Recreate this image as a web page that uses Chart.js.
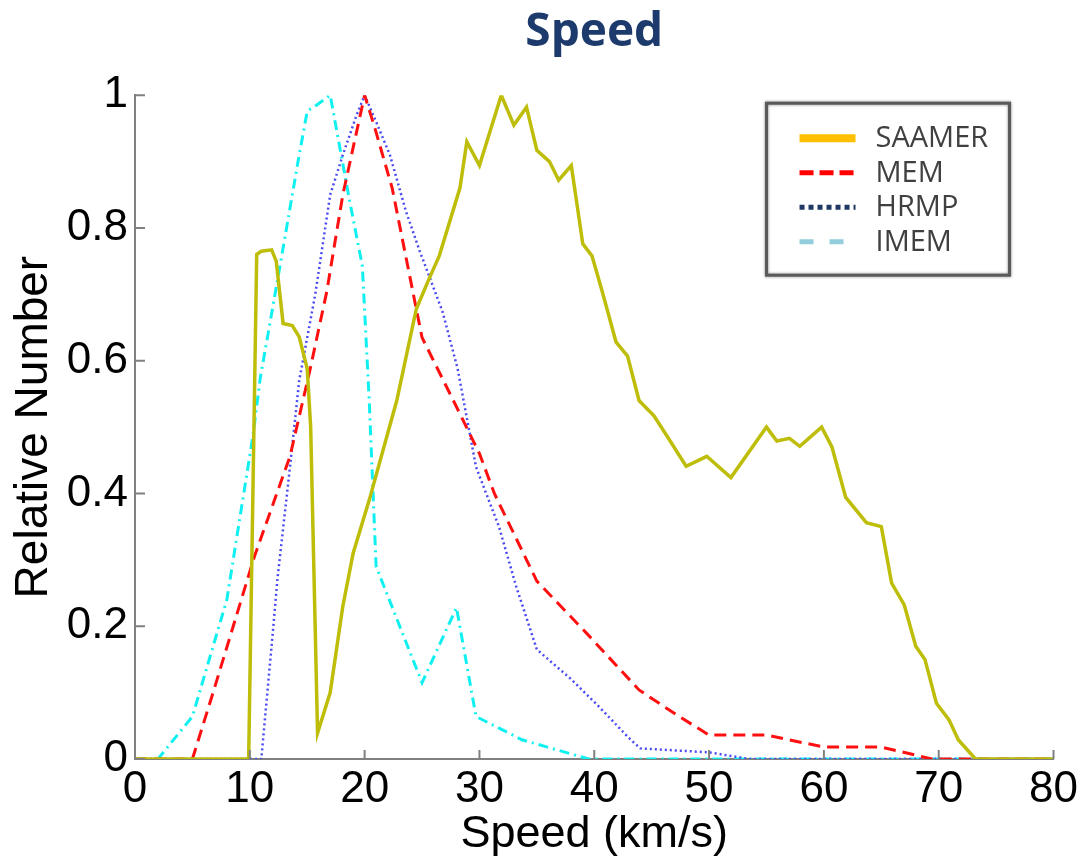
<!DOCTYPE html>
<html lang="en">

<head>
    <meta charset="UTF-8">
    <title>Speed</title>
    <script src="https://cdn.jsdelivr.net/npm/chart.js"></script>
    <style>
        body { margin: 0; background: #fff; }
        #wrap { width: 1082px; height: 862px; }
    </style>
</head>

<body>
    <div id="wrap"><canvas id="myChart"></canvas></div>

    <script>
        // speed distributions, x in km/s, y relative number
        const saamerSpeed = [0, 9.9, 10.6, 11, 11.9, 12.3, 12.9, 13.7, 14.3, 15, 15.3, 15.9, 17, 18.1, 19, 20.4, 22.8, 24.5, 25.6, 26.5, 28.3, 28.9, 30, 31.9, 33, 34.1, 35, 36.1, 36.9, 38, 39, 39.8, 40.7, 41.9, 42.9, 43.9, 45.2, 46.5, 48, 49.8, 51.9, 55, 55.9, 57, 57.9, 59.8, 60.7, 61.9, 63.7, 65, 65.9, 67, 68, 68.8, 69.8, 70.9, 71.7, 73.2, 80];
        const saamerValue = [0, 0, 0.76, 0.765, 0.767, 0.75, 0.656, 0.653, 0.636, 0.588, 0.5, 0.039, 0.1, 0.23, 0.31, 0.39, 0.54, 0.678, 0.723, 0.758, 0.86, 0.93, 0.894, 1.0, 0.955, 0.982, 0.917, 0.9, 0.872, 0.894, 0.776, 0.758, 0.704, 0.628, 0.607, 0.54, 0.517, 0.482, 0.441, 0.456, 0.424, 0.5, 0.479, 0.483, 0.471, 0.5, 0.47, 0.394, 0.356, 0.35, 0.265, 0.232, 0.17, 0.15, 0.084, 0.059, 0.029, 0, 0];

        const memSpeed = [0, 5, 6.8, 10.4, 13.5, 15.2, 16.7, 18.1, 20, 20.9, 22.4, 24.5, 25, 28.3, 30, 31.3, 35, 39.3, 43.9, 47.4, 50, 55, 60, 65, 69.4, 80];
        const memValue = [0, 0, 0.1, 0.305, 0.456, 0.583, 0.704, 0.85, 1.0, 0.95, 0.86, 0.678, 0.635, 0.52, 0.46, 0.4, 0.268, 0.19, 0.104, 0.064, 0.036, 0.036, 0.018, 0.018, 0, 0];

        const hrmpSpeed = [0, 11, 12, 12.4, 13.5, 14.3, 15.7, 17, 18.1, 19.3, 20, 21, 22.2, 23.6, 24.8, 25.7, 26.8, 28.1, 29.7, 31.7, 33.2, 35, 38, 40.4, 43, 44, 50, 53.5, 80];
        const hrmpValue = [0, 0, 0.19, 0.27, 0.44, 0.57, 0.7, 0.85, 0.91, 0.97, 1.0, 0.96, 0.91, 0.825, 0.765, 0.724, 0.673, 0.588, 0.44, 0.35, 0.26, 0.165, 0.12, 0.079, 0.032, 0.016, 0.01, 0, 0];

        const imemSpeed = [0, 2, 5, 8, 10.3, 10.9, 12.6, 14.2, 15, 15.8, 17, 17.8, 18.7, 19.8, 20.4, 21, 25, 28, 29.7, 33.7, 39.5, 80];
        const imemValue = [0, 0, 0.064, 0.24, 0.49, 0.573, 0.74, 0.9, 0.976, 0.985, 1.0, 0.925, 0.84, 0.743, 0.54, 0.29, 0.115, 0.228, 0.064, 0.029, 0, 0];

        const legendNames = ['SAAMER', 'MEM', 'HRMP', 'IMEM'];
        const legendColors = ['#FFC000', '#FF0000', '#1F3864', '#92CDDC'];
        const legendDashes = [[], [14, 6], [5, 4], [14, 16]];
        const legendWidths = [8, 5, 5, 5];

        function toPoints(xs, ys) {
            return xs.map((x, i) => ({ x: x, y: ys[i] }));
        }

        // inward tick marks on the left and bottom axes
        const innerTicks = {
            id: 'innerTicks',
            afterDraw(chart) {
                const { ctx, chartArea, scales } = chart;
                ctx.save();
                ctx.strokeStyle = '#808080';
                ctx.lineWidth = 2;
                ctx.beginPath();
                scales.y.ticks.forEach(t => {
                    const py = scales.y.getPixelForValue(t.value);
                    ctx.moveTo(chartArea.left, py);
                    ctx.lineTo(chartArea.left + 10, py);
                });
                scales.x.ticks.forEach(t => {
                    const px = scales.x.getPixelForValue(t.value);
                    ctx.moveTo(px, chartArea.bottom);
                    ctx.lineTo(px, chartArea.bottom - 9);
                });
                ctx.stroke();
                ctx.restore();
            }
        };

        // boxed legend in the upper right
        const boxLegend = {
            id: 'boxLegend',
            afterDraw(chart) {
                const { ctx, chartArea } = chart;
                const w = 243, h = 172;
                const x0 = chartArea.right - 44 - w;
                const y0 = chartArea.top + 8;
                ctx.save();
                ctx.fillStyle = '#fff';
                ctx.fillRect(x0, y0, w, h);
                ctx.shadowColor = 'rgba(0,0,0,0.5)';
                ctx.shadowBlur = 3;
                ctx.strokeStyle = '#5a5a5a';
                ctx.lineWidth = 3;
                ctx.strokeRect(x0, y0, w, h);
                ctx.shadowBlur = 0;
                ctx.font = '29px "Open Sans"';
                ctx.textBaseline = 'middle';
                legendNames.forEach((name, i) => {
                    const y = y0 + 35 + i * 34.5;
                    ctx.beginPath();
                    ctx.setLineDash(legendDashes[i]);
                    ctx.strokeStyle = legendColors[i];
                    ctx.lineWidth = legendWidths[i];
                    ctx.moveTo(x0 + 33, y);
                    ctx.lineTo(x0 + 89, y);
                    ctx.stroke();
                    ctx.setLineDash([]);
                    ctx.fillStyle = '#404040';
                    ctx.fillText(name, x0 + 109, y + 1);
                });
                ctx.restore();
            }
        };

        function drawChart() {
            const ctx = document.getElementById('myChart').getContext('2d');
            window.myChart = new Chart(ctx, {
                type: 'line',
                data: {
                    datasets: [{
                        label: 'SAAMER',
                        data: toPoints(saamerSpeed, saamerValue),
                        borderColor: '#BDBD0A',
                        borderWidth: 3.5
                    }, {
                        label: 'MEM',
                        data: toPoints(memSpeed, memValue),
                        borderColor: '#FF1010',
                        borderWidth: 3,
                        borderDash: [12, 7]
                    }, {
                        label: 'HRMP',
                        data: toPoints(hrmpSpeed, hrmpValue),
                        borderColor: '#4A4AF5',
                        borderWidth: 2.5,
                        borderDash: [2, 3]
                    }, {
                        label: 'IMEM',
                        data: toPoints(imemSpeed, imemValue),
                        borderColor: '#10F0F0',
                        borderWidth: 3,
                        borderDash: [10, 5, 2, 5]
                    }]
                },
                options: {
                    responsive: true,
                    maintainAspectRatio: false,
                    animation: false,
                    elements: {
                        point: { radius: 0 },
                        line: { tension: 0, fill: false }
                    },
                    layout: { padding: { top: 0, right: 27, bottom: 0, left: 0 } },
                    plugins: {
                        legend: { display: false },
                        tooltip: { enabled: false },
                        title: {
                            display: true,
                            text: 'Speed',
                            fullSize: false,
                            color: '#1C3A6B',
                            font: { family: '"Open Sans"', size: 46, weight: 'bold' },
                            padding: { top: 5, bottom: 35 }
                        }
                    },
                    scales: {
                        x: {
                            type: 'linear',
                            min: 0,
                            max: 80,
                            ticks: {
                                stepSize: 10,
                                color: '#000',
                                padding: 4,
                                maxRotation: 0,
                                font: { family: '"Liberation Sans"', size: 44 }
                            },
                            grid: { drawOnChartArea: false, drawTicks: false },
                            border: { color: '#808080', width: 2 },
                            title: {
                                display: true,
                                text: 'Speed (km/s)',
                                color: '#000',
                                font: { family: '"Liberation Sans"', size: 45 },
                                padding: 0
                            },
                            afterFit(scale) { scale.height = 103; }
                        },
                        y: {
                            min: 0,
                            max: 1,
                            ticks: {
                                stepSize: 0.2,
                                color: '#000',
                                padding: 7,
                                font: { family: '"Liberation Sans"', size: 44 },
                                callback: v => String(Math.round(v * 10) / 10)
                            },
                            grid: { drawOnChartArea: false, drawTicks: false },
                            border: { color: '#808080', width: 2 },
                            title: {
                                display: true,
                                text: 'Relative Number',
                                color: '#000',
                                font: { family: '"Liberation Sans"', size: 46 },
                                padding: { top: 7, bottom: 0 }
                            },
                            afterFit(scale) { scale.width = 135; }
                        }
                    }
                },
                plugins: [innerTicks, boxLegend]
            });
        }

        drawChart();
    </script>
</body>

</html>
